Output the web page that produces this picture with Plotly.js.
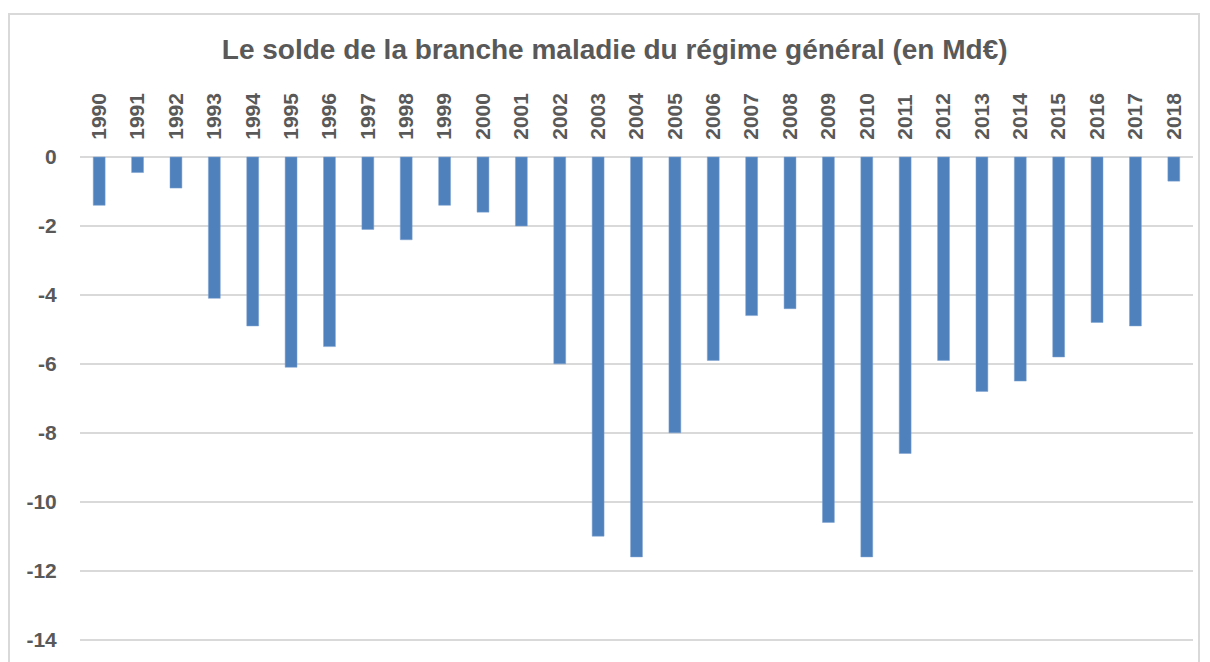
<!DOCTYPE html>
<html><head><meta charset="utf-8">
<script src="https://cdn.plot.ly/plotly-3.0.1.min.js"></script>
<style>
html,body{margin:0;padding:0;background:#fff;}
#wrap{position:relative;width:1210px;height:662px;}
#chart{width:1210px;height:662px;}
#frame{position:absolute;left:8px;top:13px;width:1192px;height:660px;border:2px solid #d9d9d9;box-sizing:border-box;pointer-events:none;}
</style></head>
<body>
<div id="wrap"><div id="chart"></div><div id="frame"></div></div>
<script>
const years = ["1990","1991","1992","1993","1994","1995","1996","1997","1998","1999","2000","2001","2002","2003","2004","2005","2006","2007","2008","2009","2010","2011","2012","2013","2014","2015","2016","2017","2018"];
const solde = [-1.4,-0.45,-0.9,-4.1,-4.9,-6.1,-5.5,-2.1,-2.4,-1.4,-1.6,-2.0,-6.0,-11.0,-11.6,-8.0,-5.9,-4.6,-4.4,-10.6,-11.6,-8.6,-5.9,-6.8,-6.5,-5.8,-4.8,-4.9,-0.7];
const yTicks = [0,-2,-4,-6,-8,-10,-12,-14];
const titleText = "Le solde de la branche maladie du régime général (en Md€)";

const txt = '#595959';
const fam = 'Liberation Sans, Arial, sans-serif';
Plotly.newPlot('chart', [{
  type: 'bar', x: years, y: solde,
  marker: {color: '#4f81bd', line: {color: '#7ea3d0', width: 0.5}},
  hoverinfo: 'x+y'
}], {
  width: 1210, height: 662,
  margin: {l: 80, r: 17, t: 156, b: 21},
  paper_bgcolor: 'rgba(0,0,0,0)', plot_bgcolor: '#fff',
  bargap: 0.69,
  title: {text: titleText, font: {family: fam, size: 28, color: txt, weight: 'bold'}, x: 0.508, xanchor: 'center', y: 0.925, yanchor: 'middle'},
  xaxis: {
    type: 'category', side: 'top', tickangle: -90,
    tickfont: {family: fam, size: 21, color: txt, weight: 'bold'},
    ticks: 'outside', ticklen: 11, tickcolor: 'rgba(0,0,0,0)',
    showgrid: false, showline: false, zeroline: false
  },
  yaxis: {
    range: [-14.04, 0.03], tickvals: yTicks, ticktext: yTicks.map(String),
    tickfont: {family: fam, size: 21, color: txt, weight: 'bold'},
    ticks: 'outside', ticklen: 18, tickcolor: 'rgba(0,0,0,0)',
    showgrid: true, gridcolor: '#d9d9d9', gridwidth: 2,
    zeroline: false, showline: false
  },
  showlegend: false
}, {displayModeBar: false, responsive: false});
</script>
</body></html>
